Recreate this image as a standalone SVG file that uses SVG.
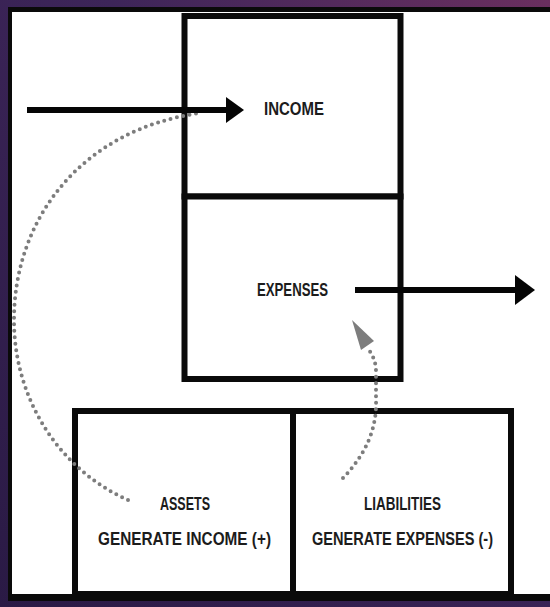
<svg xmlns="http://www.w3.org/2000/svg" width="550" height="607" viewBox="0 0 550 607">
  <defs>
    <linearGradient id="purple" x1="0" y1="1" x2="1" y2="0">
      <stop offset="0" stop-color="#2a1a45"/>
      <stop offset="0.6" stop-color="#3d2559"/>
      <stop offset="1" stop-color="#6a2f5f"/>
    </linearGradient>
  </defs>
  <style>
    .box { fill: #ffffff; stroke: #0a0a0a; stroke-width: 6; }
    .lbl { font-family: "Liberation Sans", Arial, sans-serif; font-weight: bold; font-size: 19px; fill: #1c1c1c; text-anchor: middle; }
    .flow { stroke: #050505; stroke-width: 6; fill: none; }
    .head { fill: #050505; }
    .dots { stroke: #7d7d7d; stroke-width: 4; fill: none; stroke-linecap: round; stroke-dasharray: 0 6.5; }
    .dhead { fill: #7d7d7d; }
  </style>

  <!-- frame -->
  <rect x="0" y="0" width="550" height="607" fill="url(#purple)"/>
  <rect x="8" y="7" width="548" height="594" fill="#0a0a0a"/>
  <rect x="12" y="12" width="540" height="582" fill="#ffffff"/>

  <g id="income">
    <rect class="box" x="184.5" y="16" width="216" height="180.5"/>
    <text class="lbl" x="294" y="115" textLength="60" lengthAdjust="spacingAndGlyphs">INCOME</text>
  </g>

  <g id="expenses">
    <rect class="box" x="184.5" y="196.5" width="216" height="182.5"/>
    <text class="lbl" x="292.5" y="296" textLength="71" lengthAdjust="spacingAndGlyphs">EXPENSES</text>
  </g>

  <g id="assets">
    <rect class="box" x="75" y="411" width="218" height="183"/>
    <text class="lbl" x="185" y="509.5" textLength="50" lengthAdjust="spacingAndGlyphs">ASSETS</text>
    <text class="lbl" x="184.5" y="545" textLength="173" lengthAdjust="spacingAndGlyphs">GENERATE INCOME (+)</text>
  </g>

  <g id="liabilities">
    <rect class="box" x="293" y="411" width="218" height="183"/>
    <text class="lbl" x="402.5" y="509.5" textLength="77" lengthAdjust="spacingAndGlyphs">LIABILITIES</text>
    <text class="lbl" x="402.5" y="545" textLength="181" lengthAdjust="spacingAndGlyphs">GENERATE EXPENSES (-)</text>
  </g>

  <g id="connectors">
    <!-- assets generate income (dotted) -->
    <path class="dots" d="M128,500 C60,470 14,400 14,320 C14,220 80,130 200,113"/>
    <!-- liabilities generate expenses (dotted) -->
    <path class="dots" d="M343,478 C365,455 377,430 376,400 L376,372 C376,362 373,356 369,350"/>
    <polygon class="dhead" points="352,320 374,341 361,350"/>
    <!-- income flow in -->
    <line class="flow" x1="27" y1="110" x2="228" y2="110"/>
    <polygon class="head" points="226,97 244,110 226,123"/>
    <!-- expenses flow out -->
    <line class="flow" x1="355" y1="290" x2="517" y2="290"/>
    <polygon class="head" points="515,275 535,290 515,305"/>
  </g>
</svg>
